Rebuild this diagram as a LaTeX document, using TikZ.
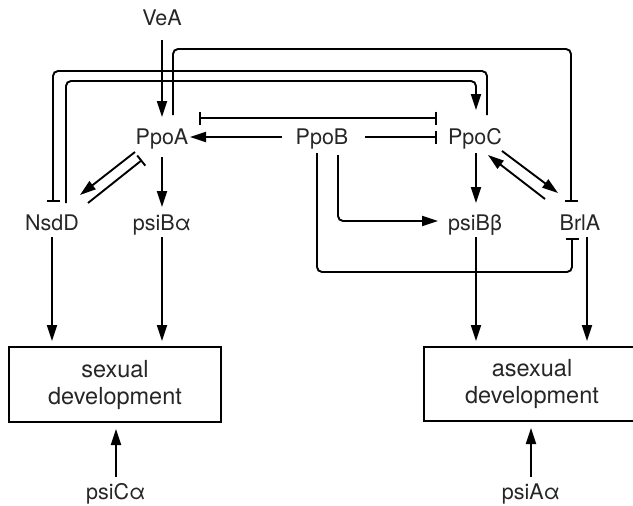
\documentclass[tikz,border=0pt]{standalone}
\usepackage{fontspec}
\setmainfont{TeX Gyre Heros}
\usetikzlibrary{arrows.meta,calc}
\begin{document}
\begin{tikzpicture}[x=1pt,y=-1pt,
  lbl/.style={inner sep=0pt, anchor=base, text=black!85, font=\fontsize{21.5}{26}\selectfont},
  devbox/.style={draw, line width=2pt, inner sep=0pt, align=center, text=black!85, font=\fontsize{23.5}{27}\selectfont},
  ln/.style={line width=1.9pt, rounded corners=5pt},
  arr/.style={ln, -{Triangle[length=16pt,width=10pt]}},
  inh/.style={ln, -{Bar[width=13pt]}},
  mutinh/.style={ln, {Bar[width=13pt]}-{Bar[width=13pt]}}
  ]
\useasboundingbox (0,0) rectangle (633,506);

% nodes
\node[lbl] (VeA)  at (162,26)  {VeA};
\node[lbl] (PpoA) at (162,144) {PpoA};
\node[lbl] (PpoB) at (322,144) {PpoB};
\node[lbl] (PpoC) at (475,144) {PpoC};
\node[lbl] (NsdD) at (52,230)  {NsdD};
\node[lbl] (psiBa) at (162,230) {psiBα};
\node[lbl] (psiBb) at (475,230) {psiBβ};
\node[lbl] (BrlA) at (580,230) {BrlA};
\node[lbl] (psiCa) at (116,499) {psiCα};
\node[lbl] (psiAa) at (531,499) {psiAα};
\node[devbox, minimum width=212pt, minimum height=75pt] (sex) at (115,384.5) {sexual\\development};
\node[devbox, minimum width=216pt, minimum height=74pt] (asex) at (532,384) {asexual\\development};

% VeA -> PpoA
\draw[arr] ($(VeA.base)+(0,14)$) -- ($(PpoA.base)+(0,-27)$);

% PpoA -| BrlA (outer loop)
\draw[inh] ($(PpoA.base)+(11,-29)$) -- ++(0,-66) -| ($(BrlA.base)+(-9,-28)$);
% PpoC -| NsdD
\draw[inh] ($(PpoC.base)+(12,-29)$) -- ++(0,-44) -| ($(NsdD.base)+(1,-28)$);
% NsdD -> PpoC
\draw[arr] ($(NsdD.base)+(14,-27)$) -- ++(0,-122) -| ($(PpoC.base)+(1,-34)$);

% PpoA -| |- PpoC mutual
\draw[mutinh] ($(PpoA.base)+(37,-26)$) -- ($(PpoC.base)+(-38,-26)$);
% PpoB -> PpoA
\draw[arr] ($(PpoB.base)+(-40,-7)$) -- ($(PpoA.base)+(28,-7)$);
% PpoB -| PpoC
\draw[inh] ($(PpoB.base)+(43,-7)$) -- ($(PpoC.base)+(-38,-7)$);
% PpoB -> psiBb
\draw[arr] ($(PpoB.base)+(16,11)$) |- ($(psiBb.base)+(-37,-9)$);
% PpoB -| BrlA
\draw[inh] ($(PpoB.base)+(-5,9)$) -- ++(0,119) -| ($(BrlA.base)+(-8,8)$);

% PpoA <-> NsdD
\draw[arr] ($(PpoA.base)+(-27,8)$) -- ($(NsdD.base)+(28,-35)$);
\draw[inh] ($(NsdD.base)+(36,-27)$) -- ($(PpoA.base)+(-20,16)$);
% PpoA -> psiBa
\draw[arr] ($(PpoA.base)+(0,13)$) -- ($(psiBa.base)+(0,-23)$);
% PpoC -> psiBb
\draw[arr] ($(PpoC.base)+(1,9)$) -- ($(psiBb.base)+(1,-27)$);
% PpoC <-> BrlA
\draw[arr] ($(PpoC.base)+(27,7)$) -- ($(BrlA.base)+(-22,-37)$);
\draw[arr] ($(BrlA.base)+(-35,-31)$) -- ($(PpoC.base)+(13,11)$);

% to development boxes
\draw[arr, shorten >=5pt] ($(NsdD.base)+(0,7)$) -- (NsdD.base |- sex.north);
\draw[arr, shorten >=5pt] ($(psiBa.base)+(0,7)$) -- (psiBa.base |- sex.north);
\draw[arr, shorten >=5pt] ($(psiBb.base)+(1,7)$) -- ($(psiBb.base |- asex.north)+(1,0)$);
\draw[arr, shorten >=5pt] ($(BrlA.base)+(7,7)$) -- ($(BrlA.base |- asex.north)+(7,0)$);
\draw[arr, shorten >=6pt] ($(psiCa.base)+(0,-22)$) -- (psiCa.base |- sex.south);
\draw[arr, shorten >=6pt] ($(psiAa.base)+(0,-22)$) -- (psiAa.base |- asex.south);
\end{tikzpicture}
\end{document}
